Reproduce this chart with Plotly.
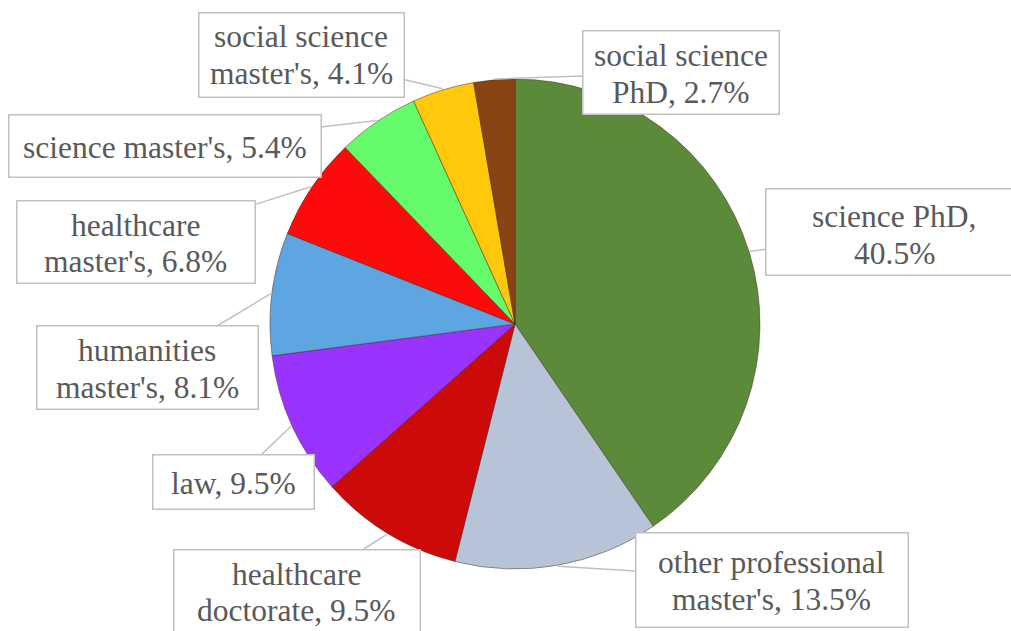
import math
import plotly.graph_objects as go

# ---- data ----
categories = ["science PhD", "other professional master's", "healthcare doctorate", "law",
              "humanities master's", "healthcare master's", "science master's",
              "social science master's", "social science PhD"]
shares = [40.5, 13.5, 9.5, 9.5, 8.1, 6.8, 5.4, 4.1, 2.7]
label_lines = [["science PhD,", "40.5%"], ["other professional", "master's, 13.5%"],
               ["healthcare", "doctorate, 9.5%"], ["law, 9.5%"], ["humanities", "master's, 8.1%"],
               ["healthcare", "master's, 6.8%"], ["science master's, 5.4%"],
               ["social science", "master's, 4.1%"], ["social science", "PhD, 2.7%"]]
colors = ["#5b8b3a", "#b7c3d7", "#cc0a0a", "#9b33ff", "#5ea6e1", "#ff0a0a",
          "#66fb6a", "#ffc80a", "#8a4414"]

# ---- layout (pixels) ----
W, H = 1011, 631
CX, CY, R = 515, 324, 245
FONT = dict(family="Liberation Serif, Tinos, Times New Roman, serif", size=31.5, color="#595959")
LINE_GAP = 36.5
# label boxes: centre x, centre y, width, height, text vertical shift (pixels)
boxes = [(894, 232, 256, 85, 3), (771.5, 579.5, 271, 93, 1.5), (296.5, 591.5, 245, 83, 1),
         (233, 481.5, 160, 53, 1.5), (147, 368, 220, 82, 1), (135.5, 242.5, 237, 81, 1),
         (164.5, 145.5, 311, 61, 1.5), (301, 54.5, 204, 83, 0.5), (680.5, 73, 195, 82, 1)]

fig = go.Figure(go.Pie(
    labels=categories, values=shares, sort=False, direction="clockwise", rotation=0,
    marker=dict(colors=colors, line=dict(color="rgba(60,30,20,0.45)", width=1)),
    textinfo="none", hoverinfo="label+percent",
    domain=dict(x=[(CX - R) / W, (CX + R) / W], y=[(H - CY - R) / H, (H - CY + R) / H]),
))

total = sum(shares)
cum = 0.0
box_ann, text_ann = [], []
for i, v in enumerate(shares):
    mid = (cum + v / 2) / total * 2 * math.pi
    cum += v
    px = CX + (R + 1) * math.sin(mid)
    py = CY - (R + 1) * math.cos(mid)
    bx, by, bw, bh, shift = boxes[i]
    box_ann.append(dict(
        x=px / W, y=1 - py / H, xref="paper", yref="paper",
        ax=bx - px, ay=by - py, axref="pixel", ayref="pixel",
        text=" ", showarrow=True, arrowhead=0, arrowwidth=1.5,
        arrowcolor="#c0c0c0", standoff=0, startstandoff=0, font=FONT,
        bgcolor="white", bordercolor="#c0c0c0", borderwidth=1.5, borderpad=0,
        width=bw, height=bh,
    ))
    lines = label_lines[i]
    n = len(lines)
    for k, t in enumerate(lines):
        ly = by + shift + (k - (n - 1) / 2) * LINE_GAP
        text_ann.append(dict(
            x=bx / W, y=1 - ly / H, xref="paper", yref="paper", text=t, showarrow=False,
            xanchor="center", yanchor="middle", font=FONT,
        ))

fig.update_layout(
    width=W, height=H, margin=dict(l=0, r=0, t=0, b=0),
    paper_bgcolor="white", plot_bgcolor="white", showlegend=False,
    annotations=box_ann + text_ann,
)
fig.write_html("out.html", config={"displayModeBar": False},
               post_script="document.body.style.margin='0';document.body.style.padding='0';")
